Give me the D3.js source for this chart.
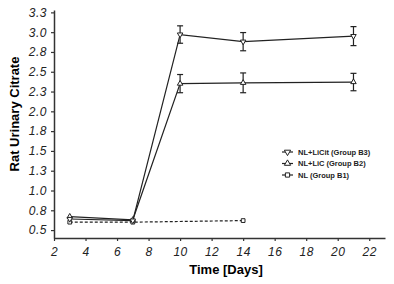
<!DOCTYPE html>
<html>
<head>
<meta charset="utf-8">
<script src="https://cdn.jsdelivr.net/npm/d3@7"></script>
<style>
  body { margin: 0; background: #fff; }
  svg { display: block; }
  text { font-family: "Liberation Sans", Arial, sans-serif; }
</style>
</head>
<body>
<div id="chart-area"></div>
<script>
// data
var daysB3 = [3, 7, 10, 14, 21]
var valuesB3 = [0.64, 0.62, 2.97, 2.88, 2.95]
var errB3 = [0, 0, 0.11, 0.115, 0.12]

var daysB2 = [3, 7, 10, 14, 21]
var valuesB2 = [0.67, 0.63, 2.35, 2.36, 2.37]
var errB2 = [0, 0, 0.115, 0.125, 0.11]

var daysB1 = [3, 7, 14]
var valuesB1 = [0.6, 0.6, 0.62]

var xTicks = [2, 4, 6, 8, 10, 12, 14, 16, 18, 20, 22]
var yTicks = [0.5, 0.75, 1.0, 1.25, 1.5, 1.75, 2.0, 2.25, 2.5, 2.75, 3.0, 3.25]

var legendLabels = ["NL+LiCit (Group B3)", "NL+LiC (Group B2)", "NL (Group B1)"]

var width = 394
var height = 284

var svg = d3.select("#chart-area")
  .append("svg")
  .attr("width", width)
  .attr("height", height)

var x = d3.scaleLinear().domain([2, 23]).range([54, 385])
var y = d3.scaleLinear().domain([0.4, 3.28]).range([238, 10])

var bottomAxis = d3.axisBottom(x).tickValues(xTicks).tickSizeInner(3).tickSizeOuter(0).tickPadding(5)
var leftAxis = d3.axisLeft(y).tickValues(yTicks).tickFormat(d3.format(".1f")).tickSizeInner(3).tickSizeOuter(0).tickPadding(4)

var xAxisGroup = svg.append("g")
  .attr("transform", "translate(0," + y.range()[0] + ")")
  .call(bottomAxis)
var yAxisGroup = svg.append("g")
  .attr("transform", "translate(" + x.range()[0] + ",0)")
  .call(leftAxis)

svg.selectAll(".domain").attr("stroke", "#333").attr("stroke-width", 1.5)
svg.selectAll(".tick line").attr("stroke", "#333").attr("stroke-width", 1.2)
svg.selectAll(".tick text")
  .attr("font-size", "12px")
  .attr("font-style", "italic")
  .attr("letter-spacing", "0.5px")
  .attr("fill", "#222")
xAxisGroup.selectAll(".tick text").attr("dy", "0.85em")

// axis titles
svg.append("text")
  .attr("x", 226)
  .attr("y", 274)
  .attr("text-anchor", "middle")
  .attr("font-size", "13px")
  .attr("font-weight", "bold")
  .text("Time [Days]")

svg.append("text")
  .attr("transform", "translate(19,114) rotate(-90)")
  .attr("text-anchor", "middle")
  .attr("font-size", "13px")
  .attr("font-weight", "bold")
  .text("Rat Urinary Citrate")

var line = d3.line()
  .x((d) => { return x(d.day) })
  .y((d) => { return y(d.value) })

function zip(days, values, errs) {
  return days.map((d, i) => {
    return { day: d, value: values[i], err: errs ? errs[i] : 0 }
  })
}

var series = [
  { data: zip(daysB1, valuesB1), symbol: d3.symbolSquare, size: 14, rot: 0, dash: "3,2" },
  { data: zip(daysB2, valuesB2, errB2), symbol: d3.symbolTriangle, size: 13, rot: 0, dash: null },
  { data: zip(daysB3, valuesB3, errB3), symbol: d3.symbolTriangle, size: 13, rot: 180, dash: null }
]

series.forEach((s) => {
  svg.append("path")
    .datum(s.data)
    .attr("fill", "none")
    .attr("stroke", "#222")
    .attr("stroke-width", 1.2)
    .attr("stroke-dasharray", s.dash)
    .attr("d", line)

  var eb = svg.append("g")
  s.data.filter((d) => { return d.err > 0 }).forEach((d) => {
    var cx = x(d.day)
    var y0 = y(d.value - d.err)
    var y1 = y(d.value + d.err)
    eb.append("line").attr("x1", cx).attr("x2", cx).attr("y1", y0).attr("y2", y1)
    eb.append("line").attr("x1", cx - 3).attr("x2", cx + 3).attr("y1", y0).attr("y2", y0)
    eb.append("line").attr("x1", cx - 3).attr("x2", cx + 3).attr("y1", y1).attr("y2", y1)
  })
  eb.selectAll("line").attr("stroke", "#222").attr("stroke-width", 1.2)

  svg.selectAll(null)
    .data(s.data)
    .enter().append("path")
    .attr("d", d3.symbol().type(s.symbol).size(s.size))
    .attr("transform", (d) => { return "translate(" + x(d.day) + "," + y(d.value) + ") rotate(" + s.rot + ")" })
    .attr("fill", "#fff")
    .attr("stroke", "#222")
    .attr("stroke-width", 1)
})

// legend
var legendSeries = [series[2], series[1], series[0]]
var legend = svg.append("g")
legendSeries.forEach((s, i) => {
  var ly = 152 + i * 11.5
  legend.append("line")
    .attr("x1", 282).attr("x2", 293)
    .attr("y1", ly).attr("y2", ly)
    .attr("stroke", "#222").attr("stroke-width", 1.2)
  legend.append("path")
    .attr("d", d3.symbol().type(s.symbol).size(s.size + 4))
    .attr("transform", "translate(287.5," + ly + ") rotate(" + s.rot + ")")
    .attr("fill", "#fff")
    .attr("stroke", "#222")
    .attr("stroke-width", 1)
  legend.append("text")
    .attr("x", 298)
    .attr("y", ly)
    .attr("dy", "0.35em")
    .attr("font-size", "7.5px")
    .attr("font-weight", "bold")
    .attr("fill", "#222")
    .text(legendLabels[i])
})
</script>
</body>
</html>
